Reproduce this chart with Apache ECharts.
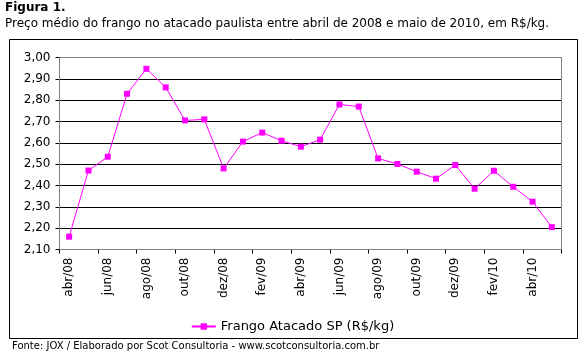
<!DOCTYPE html>
<html>
<head>
<meta charset="utf-8">
<script src="https://cdn.jsdelivr.net/npm/echarts@6/dist/echarts.min.js"></script>
<style>
html,body{margin:0;padding:0;background:#fff;}
#c{width:585px;height:358px;}
</style>
</head>
<body>
<div id="c"></div>
<script>
var categories = ['abr/08','mai/08','jun/08','jul/08','ago/08','set/08','out/08','nov/08','dez/08',
  'jan/09','fev/09','mar/09','abr/09','mai/09','jun/09','jul/09','ago/09','set/09','out/09','nov/09','dez/09',
  'jan/10','fev/10','mar/10','abr/10','mai/10'];
var precoFrango = [2.16,2.47,2.535,2.83,2.947,2.86,2.705,2.71,2.48,
  2.606,2.648,2.61,2.582,2.615,2.78,2.77,2.527,2.501,2.465,2.432,2.496,
  2.385,2.469,2.394,2.324,2.205];
var seriesName = 'Frango Atacado SP (R$/kg)';
var titleText = 'Figura 1.';
var subtitleText = 'Preço médio do frango no atacado paulista entre abril de 2008 e maio de 2010, em R$/kg.';
var footerText = 'Fonte: JOX / Elaborado por Scot Consultoria - www.scotconsultoria.com.br';

var FONT = '"DejaVu Sans", Verdana, sans-serif';
var chart = echarts.init(document.getElementById('c'), null, {renderer:'canvas'});
chart.setOption({
  animation:false,
  backgroundColor:'#fff',
  textStyle:{fontFamily:FONT},
  graphic:[
    {type:'text', left:5, top:2, style:{text:titleText, font:'bold 12px '+FONT, fill:'#000'}},
    {type:'text', left:5, top:18, style:{text:subtitleText, font:'12px '+FONT, fill:'#000'}},
    {type:'rect', shape:{x:9.5, y:39.5, width:568, height:299}, style:{fill:'none', stroke:'#000', lineWidth:1}},
    {type:'rect', shape:{x:59.5, y:57.5, width:502, height:192}, style:{fill:'none', stroke:'#808080', lineWidth:1}, z:5},
    {type:'text', left:12, top:341, style:{text:footerText, font:'10px '+FONT, fill:'#000'}}
  ],
  grid:{left:59.5, right:23.5, top:57.5, bottom:108.5, containLabel:false},
  legend:{
    bottom:20, left:'center', itemWidth:24, itemHeight:8, itemGap:10,
    textStyle:{fontSize:13, color:'#000', fontFamily:FONT},
    data:[seriesName]
  },
  xAxis:{
    type:'category', data:categories, boundaryGap:true,
    axisLine:{lineStyle:{color:'#000', width:1}},
    axisTick:{show:true, interval:1, length:4, lineStyle:{color:'#000'}},
    axisLabel:{interval:1, rotate:90, fontSize:12, color:'#000', margin:8, fontFamily:FONT},
    splitLine:{show:false}
  },
  yAxis:{
    type:'value', min:2.1, max:3.0, interval:0.1,
    axisLine:{show:true, lineStyle:{color:'#000'}},
    axisTick:{show:true, length:4, lineStyle:{color:'#000'}},
    axisLabel:{fontSize:12, color:'#000', margin:9, fontFamily:FONT,
      formatter:function(v){return v.toFixed(2).replace('.',',');}},
    splitLine:{show:true, lineStyle:{color:'#000', width:1}}
  },
  series:[{
    name:seriesName, type:'line', data:precoFrango,
    symbol:'rect', symbolSize:6, showSymbol:true,
    lineStyle:{color:'#ff00ff', width:1},
    itemStyle:{color:'#ff00ff'}
  }]
});
</script>
</body>
</html>
